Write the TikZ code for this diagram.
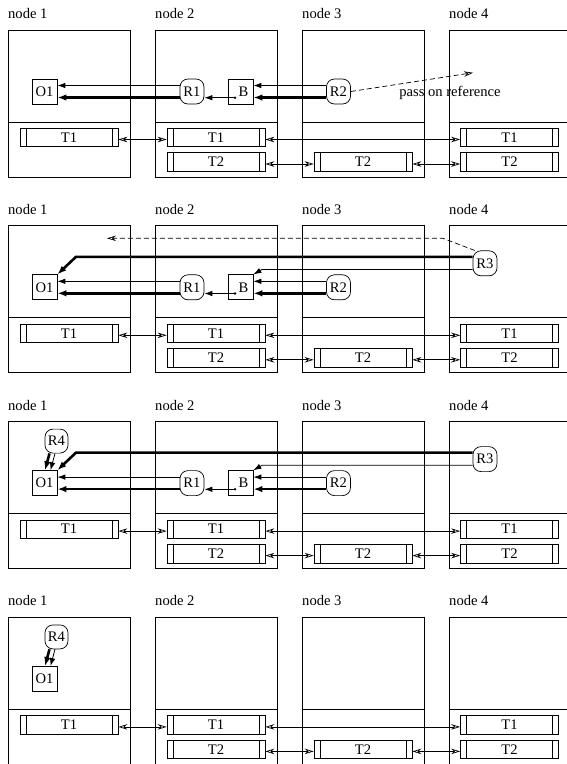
\documentclass[tikz,border=0pt]{standalone}
\usepackage{fontspec}
\setmainfont{Liberation Serif}
\usetikzlibrary{arrows.meta,calc}
\tikzset{
  every node/.style={font=\fontsize{14.6}{17}\selectfont},
  nodebox/.style={draw, line width=0.7pt, minimum width=122pt, minimum height=147pt, inner sep=0pt, outer sep=0pt},
  tbox/.style={draw, line width=0.7pt, minimum width=98pt, minimum height=18.5pt, inner sep=0pt,
    path picture={
      \draw[line width=0.7pt] ([xshift=6pt]path picture bounding box.north west) -- ([xshift=6pt]path picture bounding box.south west);
      \draw[line width=0.7pt] ([xshift=-6pt]path picture bounding box.north east) -- ([xshift=-6pt]path picture bounding box.south east);
    }},
  obox/.style={draw, line width=0.7pt, minimum width=25pt, minimum height=25pt, inner sep=0pt},
  rbox/.style={draw, line width=0.7pt, rounded corners=8pt, minimum width=24pt, minimum height=25pt, inner sep=0pt},
  thinarr/.style={line width=0.8pt, -{Latex[length=8pt,width=5.5pt]}},
  thickarr/.style={line width=2.6pt, -{Latex[length=9pt,width=6.5pt]}},
  tarr/.style={line width=0.7pt, {Stealth[open,length=9pt,width=5.5pt]}-{Stealth[open,length=9pt,width=5.5pt]}},
  dasharr/.style={line width=0.7pt, dash pattern=on 5pt off 3pt, -{Stealth[open,length=9pt,width=5.5pt]}},
  lbl/.style={anchor=base west, inner sep=0pt},
}
\begin{document}
\begin{tikzpicture}[x=1pt,y=-1pt]
\useasboundingbox (0,0) rectangle (567,764);
\clip (0,0) rectangle (567,764);
% common parts of every panel
\foreach \p/\off in {1/0,2/195.8,3/391.6,4/587.4} {
  \begin{scope}[shift={(0,\off)}]
    \foreach \k/\x in {1/8,2/155,3/302,4/449} {
      \node[lbl] (lab\k-\p) at (\x,18.5) {node \k};
      \node[nodebox, anchor=north west] (N\k-\p) at (\x,30) {};
      \draw[line width=0.7pt] (\x,122) -- ++(122,0);
    }
    \node[tbox] (T1a-\p) at (69,137.5) {T1};
    \node[tbox] (T1b-\p) at (216,137.5) {T1};
    \node[tbox] (T2b-\p) at (216,162) {T2};
    \node[tbox] (T2c-\p) at (363,162) {T2};
    \node[tbox] (T1d-\p) at (509.5,137.5) {T1};
    \node[tbox] (T2d-\p) at (509.5,162) {T2};
    \draw[tarr] ([yshift=-2pt]T1a-\p.east) -- ([yshift=-2pt]T1b-\p.west);
    \draw[tarr] ([yshift=-2pt]T1b-\p.east) -- ([yshift=-2pt]T1d-\p.west);
    \draw[tarr] ([yshift=-2pt]T2b-\p.east) -- ([yshift=-2pt]T2c-\p.west);
    \draw[tarr] ([yshift=-2pt]T2c-\p.east) -- ([yshift=-2pt]T2d-\p.west);
    \node[obox] (O1-\p) at (44.5,91.5) {O1};
  \end{scope}
}
% R1, B, R2 in panels 1-3
\foreach \p/\off in {1/0,2/195.8,3/391.6} {
  \begin{scope}[shift={(0,\off)}]
    \node[rbox] (R1-\p) at (192,91.5) {R1};
    \node[obox] (B-\p) at (240.5,91.5) {};
    \node[inner sep=0pt] (Bt-\p) at (243.5,91.5) {B};
    \node[circle, fill, inner sep=0pt, minimum size=2.8pt] (Bd-\p) at (235,97.7) {};
    \node[rbox] (R2-\p) at (338.5,91.5) {R2};
    \draw[thinarr] ([yshift=6pt]R1-\p.west) -- ([yshift=6pt]O1-\p.east);
    \draw[thickarr] ([yshift=-6pt]R1-\p.west) -- ([yshift=-6pt]O1-\p.east);
    \draw[thinarr] (Bd-\p.center) -- (R1-\p.east |- Bd-\p.center);
    \draw[thinarr] ([yshift=6pt]R2-\p.west) -- ([yshift=6pt]B-\p.east);
    \draw[thickarr] ([yshift=-6pt]R2-\p.west) -- ([yshift=-6pt]B-\p.east);
  \end{scope}
}
% R3 in panels 2-3
\foreach \p/\off in {2/195.8,3/391.6} {
  \begin{scope}[shift={(0,\off)}]
    \node[rbox] (R3-\p) at (485,67.5) {R3};
    \coordinate (k\p) at (76,61);
    \coordinate (m\p) at (262,73.7);
    \draw[thickarr] ([yshift=6.5pt]R3-\p.west) -- (k\p) -- (O1-\p.north east);
    \draw[thinarr] ([yshift=-6.2pt]R3-\p.west) -- (m\p) -- (B-\p.north east);
  \end{scope}
}
% R4 in panels 3-4
\foreach \p/\off in {3/391.6,4/587.4} {
  \begin{scope}[shift={(0,\off)}]
    \node[rbox, minimum width=23pt, minimum height=24pt] (R4-\p) at (56.5,49.5) {R4};
    \draw[thickarr] ([xshift=-7pt]R4-\p.south) -- ([xshift=0.5pt]O1-\p.north);
    \draw[thinarr] ([xshift=-1.5pt]R4-\p.south) -- ([xshift=6pt]O1-\p.north);
  \end{scope}
}
% panel 1: pass on reference
\coordinate (D1) at (473,72.7);
\draw[dasharr] (R2-1.east) -- (D1);
\node (pass) at (450,93.3) {pass on reference};
% panel 2: dashed back
\coordinate (d2a) at (443,238.3);
\coordinate (d2b) at (107,238.3);
\draw[dasharr] ([xshift=2pt]R3-2.north west) -- (d2a) -- (d2b);
\end{tikzpicture}
\end{document}
